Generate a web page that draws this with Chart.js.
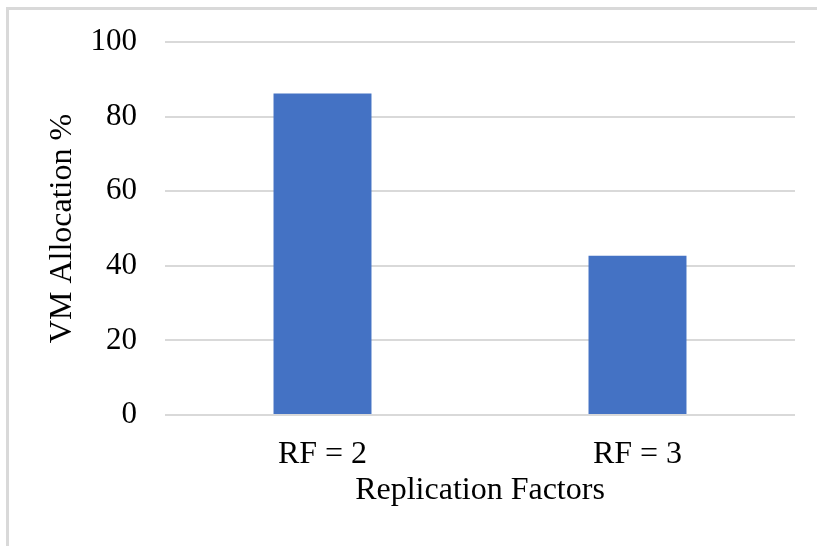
<!DOCTYPE html>
<html>
<head>
<meta charset="utf-8">
<script src="https://cdn.jsdelivr.net/npm/chart.js@4.4.0/dist/chart.umd.min.js"></script>
<style>
    html, body { margin: 0; padding: 0; background: #fff; overflow: hidden; }
    #frame {
        position: absolute; left: 6px; top: 7px;
        width: 808px; height: 536px;
        border-left: 3px solid #d9d9d9;
        border-top: 3px solid #d9d9d9;
    }
    #wrap { position: relative; width: 808px; height: 536px; }
</style>
</head>
<body>
<div id="frame"><div id="wrap"><canvas id="vmChart"></canvas></div></div>
<script>
// Datos del gráfico
var categories = ['RF = 2', 'RF = 3'];
var vmAllocation = [86.2, 42.7];
var yTicks = [0, 20, 40, 60, 80, 100];

var fontFamily = '"Liberation Serif", "Times New Roman", serif';

window.onload = function () {
    var ctx = document.getElementById('vmChart').getContext('2d');
    var vmChart = new Chart(ctx, {
        type: 'bar',
        data: {
            labels: categories,
            datasets: [{
                label: 'VM Allocation %',
                data: vmAllocation,
                backgroundColor: '#4472c4',
                borderWidth: 0,
                categoryPercentage: 1,
                barPercentage: 0.311
            }]
        },
        options: {
            responsive: true,
            maintainAspectRatio: false,
            animation: false,
            layout: { padding: { top: 32, right: 22, bottom: 0, left: 0 } },
            plugins: {
                legend: { display: false },
                tooltip: { enabled: false }
            },
            scales: {
                x: {
                    grid: { display: false },
                    border: { display: false },
                    ticks: {
                        color: '#000',
                        padding: 12,
                        font: { family: fontFamily, size: 32 }
                    },
                    title: {
                        display: true,
                        text: 'Replication Factors',
                        color: '#000',
                        padding: { top: 0, bottom: 36 },
                        font: { family: fontFamily, size: 32 }
                    },
                    afterFit: function (scale) { scale.height = 131; }
                },
                y: {
                    min: yTicks[0],
                    max: yTicks[yTicks.length - 1],
                    afterBuildTicks: function (scale) {
                        scale.ticks = yTicks.map(function (v) { return { value: v }; });
                    },
                    grid: { color: '#d9d9d9', lineWidth: 2, drawTicks: false },
                    border: { display: false },
                    ticks: {
                        color: '#000',
                        padding: 28,
                        font: { family: fontFamily, size: 31 }
                    },
                    title: {
                        display: true,
                        text: 'VM Allocation %',
                        color: '#000',
                        padding: { top: 34, bottom: 0 },
                        font: { family: fontFamily, size: 32 }
                    },
                    afterFit: function (scale) {
                        scale.width = 156;
                        // el padding de los ticks no debe empujar el área del gráfico
                        scale.paddingTop = 0;
                        scale.paddingBottom = 0;
                    }
                }
            }
        }
    });
};
</script>
</body>
</html>
